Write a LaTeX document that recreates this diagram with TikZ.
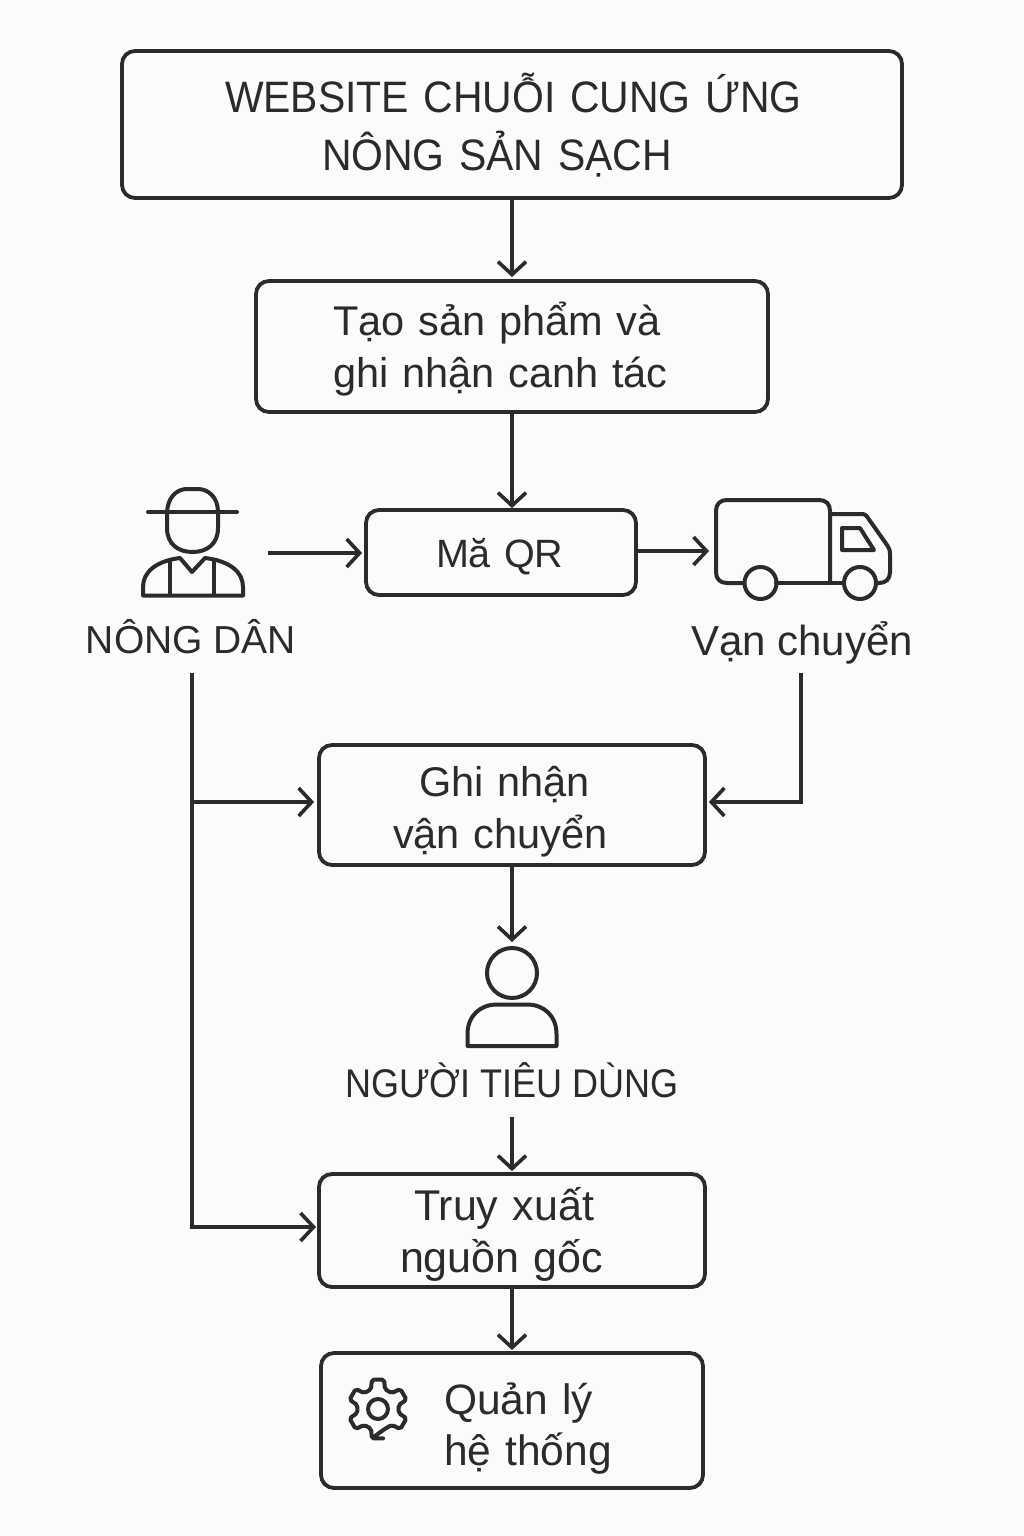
\documentclass[tikz,border=0pt]{standalone}
\usepackage{fontspec}
\setmainfont{Liberation Sans}
\newfontfamily\titlefont[FakeStretch=0.93]{Liberation Sans}
\newfontfamily\capsfont[FakeStretch=0.9]{Liberation Sans}
\usetikzlibrary{arrows.meta}
\definecolor{ink}{HTML}{2B2B2B}
\definecolor{paper}{HTML}{FBFBFB}
\newcommand\firstline[1]{\rule{0pt}{#1pt}}
\tikzset{
  flowbox/.style={draw=ink,line width=3.8pt,rounded corners=13pt,inner sep=0pt,align=left,text=ink,font=\fontsize{41.5}{52}\selectfont},
  lbl/.style={inner sep=0pt,text=ink,font=\fontsize{40}{48}\selectfont},
  conn/.style={draw=ink,line width=3.6pt,-{Straight Barb[length=13pt,width=28pt,line width=3.6pt]}},
  plainline/.style={draw=ink,line width=3.6pt},
  icon/.style={draw=ink,line width=4pt,line join=round,line cap=round}
}
\begin{document}
\begin{tikzpicture}[x=1pt,y=-1pt]
\useasboundingbox[fill=paper] (0,0) rectangle (1024,1536);
% boxes
\node[flowbox,minimum width=780pt,minimum height=147pt,text width=780pt,font=\titlefont\fontsize{44}{58}\selectfont] (title) at (512,124.5)
  {\firstline{40}\hspace*{103pt}WEBSITE CHUỖI CUNG ỨNG\\\hspace*{200pt}NÔNG SẢN SẠCH};
\node[flowbox,minimum width=512pt,minimum height=131pt,text width=512pt] (create) at (512,346.5)
  {\firstline{38}\hspace*{77pt}Tạo sản phẩm và\\\hspace*{77pt}ghi nhận canh tác};
\node[flowbox,minimum width=270pt,minimum height=85pt,text width=270pt,font=\fontsize{39.5}{48}\selectfont] (qr) at (501,552.5)
  {\firstline{36.5}\hspace*{70pt}Mă QR};
\node[flowbox,minimum width=386pt,minimum height=120pt,text width=386pt] (ship) at (512,805)
  {\firstline{43}\hspace*{100pt}Ghi nhận\\\hspace*{74pt}vận chuyển};
\node[flowbox,minimum width=386pt,minimum height=113pt,text width=386pt,font=\fontsize{43}{52}\selectfont] (trace) at (512,1230.5)
  {\firstline{40}\hspace*{95pt}Truy xuất\\\hspace*{81pt}nguồn gốc};
\node[flowbox,minimum width=382pt,minimum height=135pt,text width=382pt,font=\fontsize{42.5}{51}\selectfont] (admin) at (512,1420.5)
  {\firstline{48}\hspace*{123pt}Quản lý\\\hspace*{123pt}hệ thống};
% labels
\node[lbl,font=\fontsize{39}{48}\selectfont] (farmer) at (191,637) {NÔNG DÂN};
\node[lbl,font=\fontsize{42}{48}\selectfont] (truck) at (802,643) {Vạn chuyển};
\node[lbl,font=\capsfont\fontsize{40}{48}\selectfont] (consumer) at (512,1080) {NGƯỜI TIÊU DÙNG};
% free ends
\coordinate (farmerout) at (268,553);
\coordinate (truckin) at (709,551);
\coordinate (personin) at (512,942);
\coordinate (farmerdown) at (192,673);
\coordinate (truckdown) at (801,673);
\coordinate (consumerout) at (512,1117);
\coordinate (branch) at (192,802);
\coordinate (tracein) at (319,1227);
% connectors
\draw[conn,shorten >=2pt] (title.south) -- (create.north);
\draw[conn] (create.south) -- (create.south |- qr.north);
\draw[conn,shorten >=2pt] (farmerout) -- (farmerout -| qr.west);
\draw[conn] (qr.east |- truckin) -- (truckin);
\draw[plainline] (farmerdown) -- (branch);
\draw[conn,shorten >=3pt] (branch) -- (branch -| ship.west);
\draw[conn,shorten >=3pt] (branch) |- (tracein);
\draw[conn,shorten >=2pt] (truckdown) |- (branch -| ship.east);
\draw[conn] (ship.south -| personin) -- (personin);
\draw[conn,shorten >=1pt] (consumerout) -- (trace.north);
\draw[conn,shorten >=1pt] (trace.south) -- (admin.north);
% farmer icon
\begin{scope}[icon]
\draw (167,514) -- (167,528) .. controls (167,544) and (178,552) .. (192.5,552) .. controls (207,552) and (218,544) .. (218,528) -- (218,512)
  .. controls (218,497) and (208,489) .. (198,489) -- (187,489) .. controls (177,489) and (167,497) .. (167,514);
\draw (148,512) -- (237,512);
\draw (143,595.5) -- (243,595.5) -- (243,587) .. controls (243,572) and (230,561) .. (205,558) -- (192,572) -- (180,558) .. controls (156,561) and (143,572) .. (143,587) -- cycle;
\draw (170,561) -- (170,595);
\draw (214,561) -- (214,595);
% truck icon
\draw (744,583) -- (727,583) .. controls (720,583) and (716,579) .. (716,572) -- (716,511) .. controls (716,504) and (720,500) .. (727,500) -- (819,500) .. controls (826,500) and (830,504) .. (830,511) -- (830,583);
\draw (776,583) -- (844,583);
\draw (830,514) -- (861,514) .. controls (865,514) and (866,515) .. (868,518) -- (887,545) .. controls (889,548) and (890,550) .. (890,554) -- (890,572) .. controls (890,579) and (886,583) .. (879,583) -- (876,583);
\draw (842,528) -- (860,528) -- (874,550) -- (842,550) -- cycle;
\draw (760.5,583) circle (16);
\draw (860,583) circle (16);
% person icon
\draw (512,973) circle (25);
\draw (467.5,1046) -- (467.5,1034) .. controls (467.5,1016) and (480,1004.5) .. (497,1004.5) -- (527,1004.5) .. controls (544,1004.5) and (556.5,1016) .. (556.5,1034) -- (556.5,1046) -- cycle;
% gear icon
\begin{scope}[shift={(378,1409)}]
\draw[rounded corners=2pt] (102:30)
  \foreach \a in {90,150,210,270,330,30} { -- (\a-12:30) -- (\a+12:30) -- (\a+19:21) -- (\a+41:21) } -- cycle;
\draw (0,0) circle (10);
\end{scope}
\end{scope}
\end{tikzpicture}
\end{document}
